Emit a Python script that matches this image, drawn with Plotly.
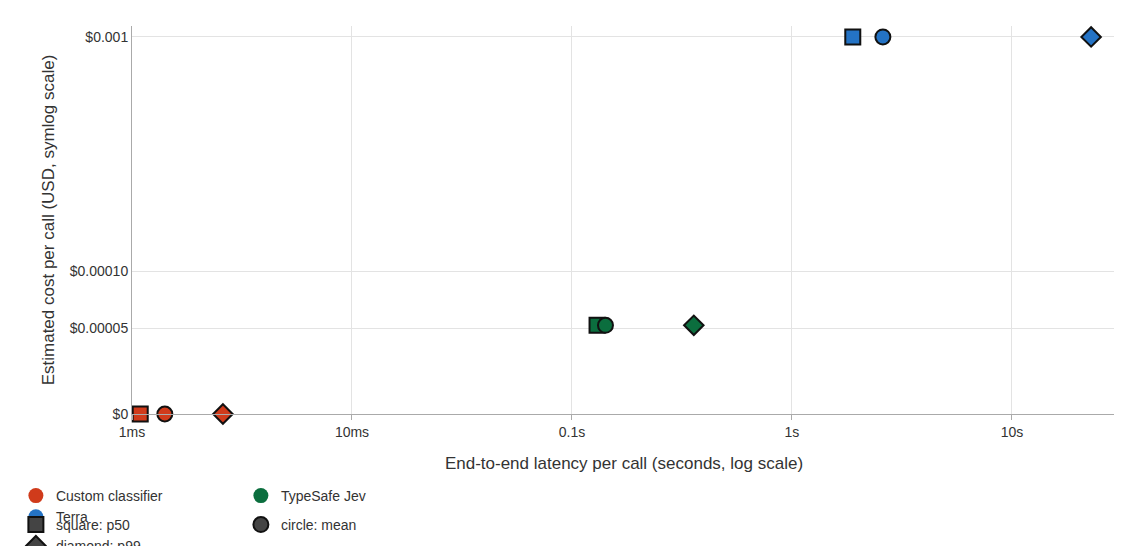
import numpy as np
import plotly.graph_objects as go

# latency in seconds: p50, mean, p99
systems = ['Custom classifier', 'TypeSafe Jev', 'Terra']
colors = ['#d03b1b', '#0b6e3e', '#2473c5']
latency_p50 = [0.00109, 0.130, 1.89]
latency_mean = [0.00141, 0.142, 2.59]
latency_p99 = [0.00259, 0.358, 22.9]
cost = [0.0, 0.000052, 0.001]

stats = ['p50', 'mean', 'p99']
symbols = ['square', 'circle', 'diamond']
shape_labels = ['square: p50', 'circle: mean', 'diamond: p99']

y_ticks = [0.0, 0.00005, 0.0001, 0.001]
y_tick_text = ['$0', '$0.00005', '$0.00010', '$0.001']

C = 5.46e-5  # symlog scale constant


def symlog(v):
    return np.arcsinh(np.asarray(v) / C)


fig = go.Figure()

for i, name in enumerate(systems):
    for lat, sym in zip([latency_p50, latency_mean, latency_p99], symbols):
        fig.add_trace(go.Scatter(
            x=[lat[i]], y=symlog([cost[i]]), mode='markers',
            marker=dict(symbol=sym, size=15, color=colors[i],
                        line=dict(color='#111', width=2)),
            cliponaxis=False, showlegend=False, hoverinfo='x+y'))

# legend row 1: systems
for name, col in zip(systems, colors):
    fig.add_trace(go.Scatter(
        x=[None], y=[None], mode='markers', name=name,
        marker=dict(symbol='circle', size=15, color=col), legend='legend'))

# legend row 2: shapes
for lab, sym in zip(shape_labels, symbols):
    fig.add_trace(go.Scatter(
        x=[None], y=[None], mode='markers', name=lab,
        marker=dict(symbol=sym, size=15, color='#444',
                    line=dict(color='#111', width=2)), legend='legend2'))

legend_style = dict(orientation='h', x=-0.118, xanchor='left',
                    yref='container', yanchor='middle',
                    entrywidth=180, entrywidthmode='pixels',
                    font=dict(size=14, color='#333'), bgcolor='rgba(0,0,0,0)')

fig.update_layout(
    width=1122, height=546,
    margin=dict(l=124, r=14, t=18, b=140, autoexpand=False),
    paper_bgcolor='white', plot_bgcolor='white',
    font=dict(family='Liberation Sans, Arial, sans-serif', size=14, color='#333'),
    xaxis=dict(type='log', range=[-3, 1.473],
               tickvals=[0.001, 0.01, 0.1, 1, 10],
               ticktext=['1ms', '10ms', '0.1s', '1s', '10s'],
               title=dict(text='End-to-end latency per call (seconds, log scale)',
                          standoff=18),
               showgrid=True, gridcolor='#e3e3e3', zeroline=False,
               showline=True, linecolor='#aaa', ticks='outside',
               ticklen=5, tickcolor='#aaa'),
    yaxis=dict(range=[0, 3.706],
               tickvals=symlog(y_ticks).tolist(), ticktext=y_tick_text,
               title=dict(text='Estimated cost per call (USD, symlog scale)',
                          standoff=10),
               showgrid=True, gridcolor='#e3e3e3', zeroline=False,
               showline=True, linecolor='#aaa'),
    legend=dict(y=0.087, **legend_style),
    legend2=dict(y=0.034, **legend_style),
)

fig.write_html('out.html')
